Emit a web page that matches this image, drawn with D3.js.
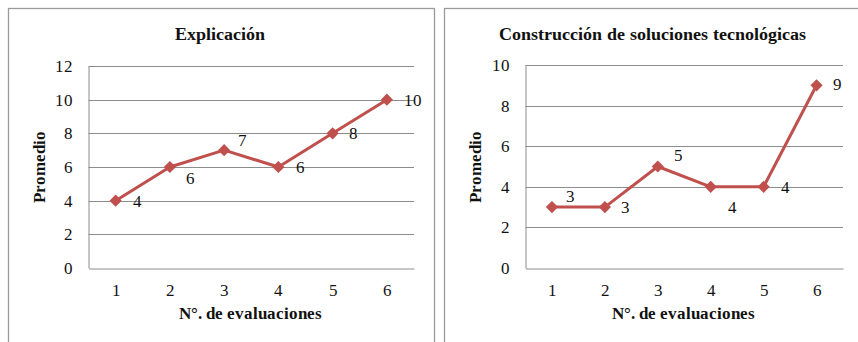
<!DOCTYPE html>
<html>
<head>
<meta charset="utf-8">
<script src="https://cdn.jsdelivr.net/npm/d3@7"></script>
</head>
<body style="margin:0;background:#fff">
<svg id="chart" width="858" height="342" style="display:block"></svg>
<script>
// Evaluation numbers shared by both panels
const evaluations = ["1", "2", "3", "4", "5", "6"];

// Average score per evaluation
const explicacionValues = [4, 6, 7, 6, 8, 10];
const construccionValues = [3, 3, 5, 4, 4, 9];

// Y tick labels per panel
const explicacionTicks = [0, 2, 4, 6, 8, 10, 12];
const construccionTicks = [0, 2, 4, 6, 8, 10];

const titles = ["Explicación", "Construcción de soluciones tecnológicas"];
const xTitle = "N°. de evaluaciones";
const yTitle = "Promedio";

// Serif face mapped onto the locally installed Times-metric font
const faceCss = document.createElement("style");
faceCss.textContent = `
@font-face { font-family: "ChartSerif"; font-weight: 400; src: local("Liberation Serif"), local("LiberationSerif"), local("Times New Roman"); }
@font-face { font-family: "ChartSerif"; font-weight: 700; src: local("Liberation Serif Bold"), local("LiberationSerif-Bold"), local("Times New Roman Bold"); }
`;
document.head.appendChild(faceCss);

const fontStack = "ChartSerif, 'Liberation Serif', 'Times New Roman'";
const ink = "#111";
const svg = d3.select("#chart");
const red = "#c0504d";

// Panel layout: frame and plot area
const panels = [
  {
    title: titles[0], values: explicacionValues, ticks: explicacionTicks,
    frame: { x: 8.5, y: 8.5, w: 426, h: 360 },
    plot: { x0: 88.5, x1: 414, y0: 66, y1: 268 },
    titleX: 220, yTitleX: 45, xTitleX: 250,
    // label offsets (dx, dy) relative to each point
    labelOffsets: [[22, 0], [21, 11], [18, -10], [22, 0], [21, 0], [26, 0]]
  },
  {
    title: titles[1], values: construccionValues, ticks: construccionTicks,
    frame: { x: 444.5, y: 8.5, w: 430, h: 360 },
    plot: { x0: 525.5, x1: 843, y0: 65, y1: 268 },
    titleX: 652, yTitleX: 481, xTitleX: 683,
    labelOffsets: [[19, -11], [21, 0], [21, -11], [22, 20], [22, 0], [21, -1]]
  }
];

function serifText(sel, size, bold) {
  sel.style("font-family", fontStack)
    .attr("font-size", size)
    .attr("font-weight", bold ? "bold" : "normal")
    .attr("fill", ink);
  return sel;
}

function draw() {
  panels.forEach(p => {
    const g = svg.append("g");

    g.append("rect")
      .attr("x", p.frame.x).attr("y", p.frame.y)
      .attr("width", p.frame.w).attr("height", p.frame.h)
      .attr("fill", "none").attr("stroke", "#9a9a9a").attr("stroke-width", 1.3);

    const x = d3.scalePoint()
      .domain(evaluations)
      .range([p.plot.x0, p.plot.x1])
      .padding(0.5);

    const y = d3.scaleLinear()
      .domain([0, d3.max(p.ticks)])
      .range([p.plot.y1, p.plot.y0]);

    // Horizontal gridlines
    g.append("g")
      .selectAll("line")
      .data(p.ticks.filter(t => t > 0))
      .join("line")
      .attr("x1", p.plot.x0).attr("x2", p.plot.x1)
      .attr("y1", d => Math.round(y(d)) + 0.5).attr("y2", d => Math.round(y(d)) + 0.5)
      .attr("stroke", "#8c8c8c").attr("stroke-width", 1);

    // Y axis
    const yAxis = g.append("g")
      .attr("transform", `translate(${p.plot.x0},0)`)
      .call(d3.axisLeft(y).tickValues(p.ticks).tickSize(0).tickPadding(16).tickFormat(d3.format("d")));
    yAxis.attr("font-family", null);
    yAxis.select(".domain").attr("stroke", "#8c8c8c");
    serifText(yAxis.selectAll("text"), 17, false);

    // X axis
    const xAxis = g.append("g")
      .attr("transform", `translate(0,${Math.round(p.plot.y1) + 0.5})`)
      .call(d3.axisBottom(x).tickSize(0).tickPadding(15));
    xAxis.attr("font-family", null);
    xAxis.select(".domain").attr("stroke", "#8c8c8c");
    serifText(xAxis.selectAll("text"), 17, false);

    // Title
    serifText(g.append("text"), 17.5, true)
      .attr("x", p.titleX).attr("y", 40)
      .attr("text-anchor", "middle")
      .text(p.title);

    // Axis titles
    serifText(g.append("text"), 16.5, true)
      .attr("x", p.xTitleX).attr("y", 319)
      .attr("text-anchor", "middle")
      .text(xTitle);

    serifText(g.append("text"), 16.5, true)
      .attr("transform", `translate(${p.yTitleX},167) rotate(-90)`)
      .attr("text-anchor", "middle")
      .text(yTitle);

    const data = p.values.map((v, i) => ({ k: evaluations[i], v, i }));

    // Line
    g.append("path")
      .datum(data)
      .attr("fill", "none")
      .attr("stroke", red).attr("stroke-width", 3)
      .attr("stroke-linejoin", "round")
      .attr("d", d3.line().x(d => x(d.k)).y(d => y(d.v)));

    // Diamond markers
    g.append("g")
      .selectAll("path")
      .data(data)
      .join("path")
      .attr("transform", d => `translate(${x(d.k)},${y(d.v)})`)
      .attr("d", d3.symbol(d3.symbolDiamond2, 95))
      .attr("fill", red);

    // Value labels
    serifText(g.append("g")
      .selectAll("text")
      .data(data)
      .join("text"), 17, false)
      .attr("x", d => x(d.k) + p.labelOffsets[d.i][0])
      .attr("y", d => y(d.v) + p.labelOffsets[d.i][1])
      .attr("dy", "0.35em")
      .attr("text-anchor", "middle")
      .text(d => d.v);
  });
}

draw();
</script>
</body>
</html>
